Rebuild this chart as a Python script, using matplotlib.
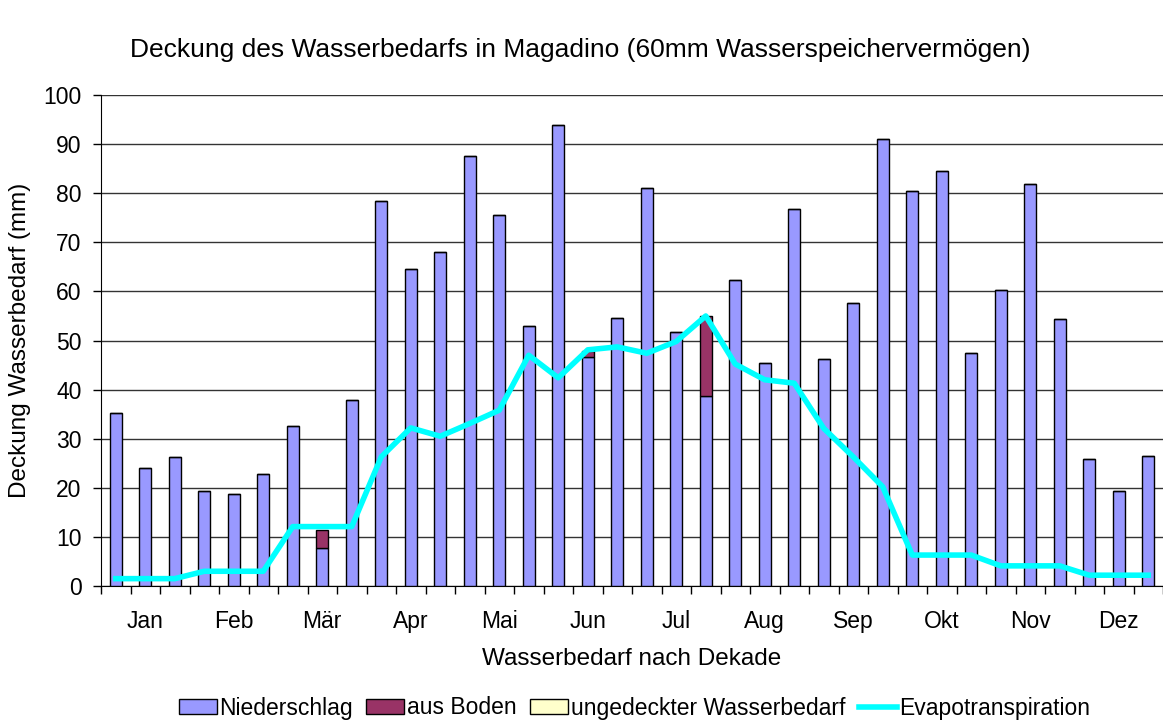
import numpy as np
import matplotlib.pyplot as plt
from matplotlib.patches import Patch
from matplotlib.lines import Line2D

plt.rcParams['font.family'] = ['Liberation Sans', 'DejaVu Sans']

months = ['Jan', 'Feb', 'Mär', 'Apr', 'Mai', 'Jun',
          'Jul', 'Aug', 'Sep', 'Okt', 'Nov', 'Dez']

# Niederschlag pro Dekade (mm)
niederschlag = [35.2, 24.0, 26.3, 19.4, 18.7, 22.9, 32.5, 7.7, 37.9,
                78.5, 64.6, 68.0, 87.6, 75.6, 53.0, 93.8, 46.7, 54.5,
                81.0, 51.7, 38.6, 62.3, 45.5, 76.7, 46.2, 57.7, 91.0,
                80.4, 84.5, 47.5, 60.3, 81.9, 54.3, 25.9, 19.3, 26.4]

# aus Bodenspeicher gedeckt (mm)
aus_boden = [0, 0, 0, 0, 0, 0, 0, 3.8, 0,
             0, 0, 0, 0, 0, 0, 0, 1.2, 0,
             0, 0, 16.4, 0, 0, 0, 0, 0, 0,
             0, 0, 0, 0, 0, 0, 0, 0, 0]

ungedeckt = [0] * 36

# Evapotranspiration (mm)
evapo = [1.5, 1.5, 1.5, 3.0, 3.0, 3.0, 12.1, 12.1, 12.1,
         26.3, 32.2, 30.5, 33.1, 35.8, 47.0, 42.4, 48.1, 48.7,
         47.4, 49.8, 55.0, 45.2, 42.0, 41.3, 32.1, 26.3, 20.2,
         6.3, 6.3, 6.3, 4.1, 4.1, 4.1, 2.2, 2.2, 2.2]

c_nied = '#9999FF'
c_boden = '#993366'
c_unged = '#FFFFCC'
c_evapo = '#00FFFF'

fig = plt.figure(figsize=(11.63, 7.2), dpi=100)
ax = fig.add_axes([101 / 1163, 1 - 586 / 720, 1 - 101 / 1163, (586 - 95) / 720])

x = np.arange(36) + 0.5
w = 0.41
nied = np.array(niederschlag)
boden = np.array(aus_boden)
ax.bar(x, nied, w, color=c_nied, edgecolor='black', linewidth=1, zorder=3)
ax.bar(x, boden, w, bottom=nied, color=c_boden, edgecolor='black', linewidth=1,
       zorder=3)
ax.bar(x, ungedeckt, w, bottom=nied + boden, color=c_unged, edgecolor='none',
       zorder=3)
ax.plot(x, evapo, color=c_evapo, lw=4, zorder=4)

ax.set_xlim(0, 36)
ax.set_ylim(0, 100)
ax.set_yticks(range(0, 101, 10))
ax.yaxis.grid(True, color='#333333', lw=1)
ax.set_axisbelow(True)

ax.set_xticks(np.arange(1.5, 36, 3))
ax.set_xticklabels(months)
ax.set_xticks(np.arange(0, 37, 1), minor=True)
ax.tick_params(axis='x', which='major', length=0, pad=17, labelsize=16.5)
ax.tick_params(axis='x', which='minor', length=6, width=1, direction='out')
ax.tick_params(axis='y', length=6, width=1, direction='out', labelsize=16.5, pad=8)

for s in ['top', 'right']:
    ax.spines[s].set_visible(False)
ax.spines['left'].set_color('black')
ax.spines['bottom'].set_color('black')

ax.set_ylabel('Deckung Wasserbedarf (mm)', fontsize=17.5, va='center')
ax.yaxis.set_label_coords((20 - 101) / 1062, 0.5)
ax.set_xlabel('Wasserbedarf nach Dekade', fontsize=17.5, va='center')
ax.xaxis.set_label_coords(0.5, (586 - 659) / 491)
fig.text(0.499, 1 - 50 / 720, 'Deckung des Wasserbedarfs in Magadino (60mm Wasserspeichervermögen)',
         ha='center', va='center', fontsize=19)

handles = [Patch(facecolor=c_nied, edgecolor='black'),
           Patch(facecolor=c_boden, edgecolor='black'),
           Patch(facecolor=c_unged, edgecolor='black'),
           Line2D([0], [0], color=c_evapo, lw=4)]
labels = ['Niederschlag', 'aus Boden', 'ungedeckter Wasserbedarf', 'Evapotranspiration']
fig.legend(handles, labels, loc='center', bbox_to_anchor=(0.5456, 1 - 708 / 720),
           ncol=4, frameon=False, fontsize=16.5, handlelength=1.66, handletextpad=0.13,
           columnspacing=0.57, handleheight=0.65, borderpad=0)

fig.savefig('out.png', dpi=100)
